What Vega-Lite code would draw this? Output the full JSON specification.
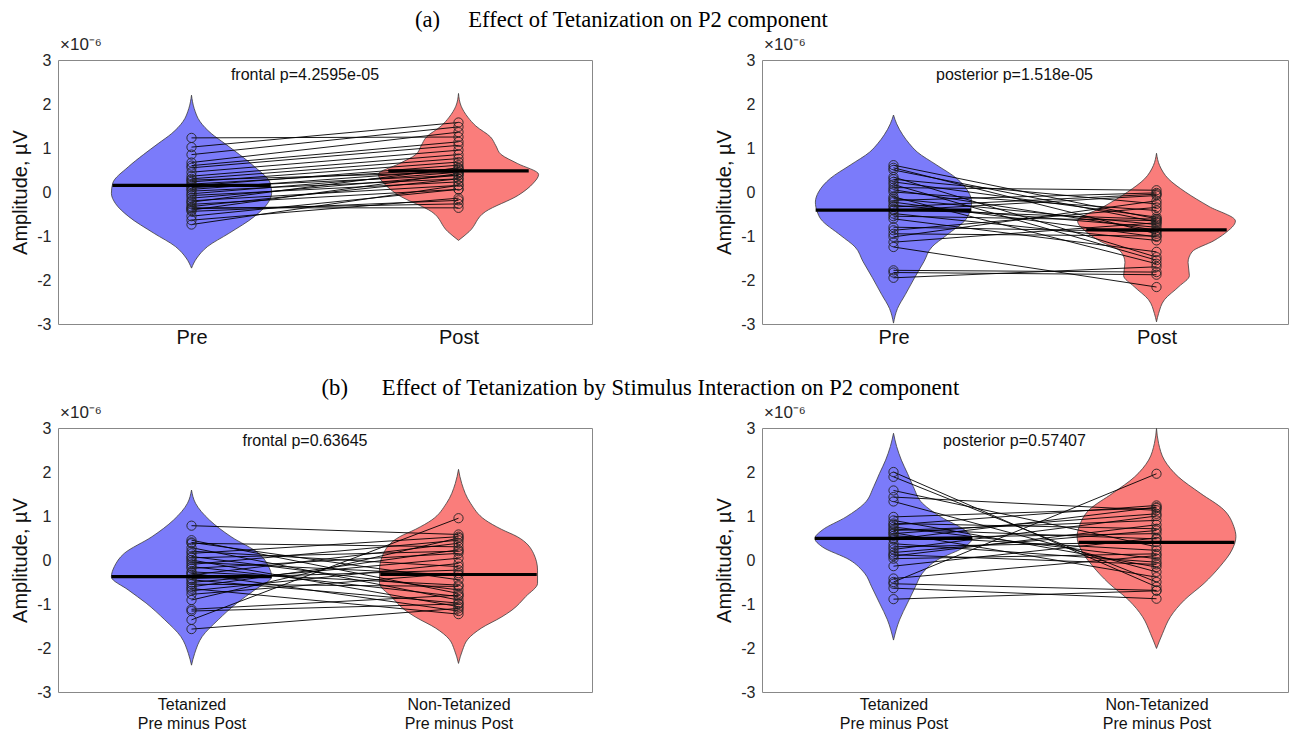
{
  "$schema": "https://vega.github.io/schema/vega-lite/v6.json",
  "padding": {"left": 10, "top": 8, "right": 0, "bottom": 0},
  "background": "white",
  "datasets": {
    "violin": [
      {"p":"A1","g":1,"y":2.2,"lo":1,"hi":1},{"p":"A1","g":1,"y":1.9,"lo":0.99,"hi":1.01},{"p":"A1","g":1,"y":1.6,"lo":0.968,"hi":1.032},{"p":"A1","g":1,"y":1.33,"lo":0.926,"hi":1.074},{"p":"A1","g":1,"y":1.1,"lo":0.875,"hi":1.125},{"p":"A1","g":1,"y":0.85,"lo":0.82,"hi":1.18},{"p":"A1","g":1,"y":0.57,"lo":0.763,"hi":1.237},{"p":"A1","g":1,"y":0.2,"lo":0.705,"hi":1.295},{"p":"A1","g":1,"y":-0.03,"lo":0.7,"hi":1.3},{"p":"A1","g":1,"y":-0.26,"lo":0.715,"hi":1.285},{"p":"A1","g":1,"y":-0.56,"lo":0.765,"hi":1.235},{"p":"A1","g":1,"y":-0.94,"lo":0.86,"hi":1.14},{"p":"A1","g":1,"y":-1.24,"lo":0.94,"hi":1.06},{"p":"A1","g":1,"y":-1.5,"lo":0.98,"hi":1.02},{"p":"A1","g":1,"y":-1.73,"lo":1,"hi":1},
      {"p":"A1","g":2,"y":2.24,"lo":2,"hi":2},{"p":"A1","g":2,"y":1.95,"lo":1.99,"hi":2.01},{"p":"A1","g":2,"y":1.7,"lo":1.965,"hi":2.035},{"p":"A1","g":2,"y":1.5,"lo":1.935,"hi":2.065},{"p":"A1","g":2,"y":1.25,"lo":1.88,"hi":2.12},{"p":"A1","g":2,"y":1.05,"lo":1.86,"hi":2.14},{"p":"A1","g":2,"y":0.85,"lo":1.84,"hi":2.16},{"p":"A1","g":2,"y":0.65,"lo":1.78,"hi":2.22},{"p":"A1","g":2,"y":0.4,"lo":1.7,"hi":2.3},{"p":"A1","g":2,"y":0.2,"lo":1.72,"hi":2.28},{"p":"A1","g":2,"y":-0.07,"lo":1.775,"hi":2.225},{"p":"A1","g":2,"y":-0.45,"lo":1.9,"hi":2.1},{"p":"A1","g":2,"y":-0.9,"lo":1.96,"hi":2.04},{"p":"A1","g":2,"y":-1.1,"lo":2,"hi":2},
      {"p":"A2","g":1,"y":1.75,"lo":1,"hi":1},{"p":"A2","g":1,"y":1.55,"lo":0.988,"hi":1.012},{"p":"A2","g":1,"y":1.3,"lo":0.965,"hi":1.035},{"p":"A2","g":1,"y":1.1,"lo":0.94,"hi":1.06},{"p":"A2","g":1,"y":0.91,"lo":0.91,"hi":1.09},{"p":"A2","g":1,"y":0.61,"lo":0.835,"hi":1.165},{"p":"A2","g":1,"y":0.31,"lo":0.76,"hi":1.24},{"p":"A2","g":1,"y":0,"lo":0.715,"hi":1.285},{"p":"A2","g":1,"y":-0.23,"lo":0.703,"hi":1.297},{"p":"A2","g":1,"y":-0.45,"lo":0.71,"hi":1.29},{"p":"A2","g":1,"y":-0.61,"lo":0.723,"hi":1.277},{"p":"A2","g":1,"y":-0.99,"lo":0.8,"hi":1.2},{"p":"A2","g":1,"y":-1.25,"lo":0.854,"hi":1.146},{"p":"A2","g":1,"y":-1.58,"lo":0.884,"hi":1.116},{"p":"A2","g":1,"y":-1.95,"lo":0.92,"hi":1.08},{"p":"A2","g":1,"y":-2.33,"lo":0.955,"hi":1.045},{"p":"A2","g":1,"y":-2.65,"lo":0.985,"hi":1.015},{"p":"A2","g":1,"y":-2.98,"lo":1,"hi":1},
      {"p":"A2","g":2,"y":0.88,"lo":2,"hi":2},{"p":"A2","g":2,"y":0.6,"lo":1.988,"hi":2.012},{"p":"A2","g":2,"y":0.3,"lo":1.955,"hi":2.045},{"p":"A2","g":2,"y":0,"lo":1.89,"hi":2.11},{"p":"A2","g":2,"y":-0.33,"lo":1.8,"hi":2.2},{"p":"A2","g":2,"y":-0.66,"lo":1.7,"hi":2.3},{"p":"A2","g":2,"y":-0.94,"lo":1.74,"hi":2.26},{"p":"A2","g":2,"y":-1.1,"lo":1.78,"hi":2.22},{"p":"A2","g":2,"y":-1.36,"lo":1.865,"hi":2.135},{"p":"A2","g":2,"y":-1.6,"lo":1.88,"hi":2.12},{"p":"A2","g":2,"y":-1.9,"lo":1.875,"hi":2.125},{"p":"A2","g":2,"y":-2.15,"lo":1.915,"hi":2.085},{"p":"A2","g":2,"y":-2.45,"lo":1.97,"hi":2.03},{"p":"A2","g":2,"y":-2.76,"lo":1.992,"hi":2.008},{"p":"A2","g":2,"y":-2.95,"lo":2,"hi":2},
      {"p":"B1","g":1,"y":1.59,"lo":1,"hi":1},{"p":"B1","g":1,"y":1.29,"lo":0.985,"hi":1.015},{"p":"B1","g":1,"y":0.91,"lo":0.933,"hi":1.067},{"p":"B1","g":1,"y":0.53,"lo":0.852,"hi":1.148},{"p":"B1","g":1,"y":0.15,"lo":0.748,"hi":1.252},{"p":"B1","g":1,"y":-0.15,"lo":0.711,"hi":1.289},{"p":"B1","g":1,"y":-0.38,"lo":0.7,"hi":1.3},{"p":"B1","g":1,"y":-0.68,"lo":0.763,"hi":1.237},{"p":"B1","g":1,"y":-0.98,"lo":0.83,"hi":1.17},{"p":"B1","g":1,"y":-1.36,"lo":0.9,"hi":1.1},{"p":"B1","g":1,"y":-1.74,"lo":0.96,"hi":1.04},{"p":"B1","g":1,"y":-2.12,"lo":0.988,"hi":1.012},{"p":"B1","g":1,"y":-2.39,"lo":1,"hi":1},
      {"p":"B1","g":2,"y":2.06,"lo":2,"hi":2},{"p":"B1","g":2,"y":1.74,"lo":1.988,"hi":2.012},{"p":"B1","g":2,"y":1.29,"lo":1.955,"hi":2.045},{"p":"B1","g":2,"y":0.91,"lo":1.9,"hi":2.1},{"p":"B1","g":2,"y":0.7,"lo":1.84,"hi":2.16},{"p":"B1","g":2,"y":0.53,"lo":1.78,"hi":2.22},{"p":"B1","g":2,"y":0.15,"lo":1.719,"hi":2.281},{"p":"B1","g":2,"y":-0.23,"lo":1.704,"hi":2.296},{"p":"B1","g":2,"y":-0.53,"lo":1.704,"hi":2.296},{"p":"B1","g":2,"y":-0.83,"lo":1.748,"hi":2.252},{"p":"B1","g":2,"y":-1.14,"lo":1.8,"hi":2.2},{"p":"B1","g":2,"y":-1.3,"lo":1.84,"hi":2.16},{"p":"B1","g":2,"y":-1.55,"lo":1.915,"hi":2.085},{"p":"B1","g":2,"y":-1.8,"lo":1.965,"hi":2.035},{"p":"B1","g":2,"y":-2.05,"lo":1.985,"hi":2.015},{"p":"B1","g":2,"y":-2.35,"lo":2,"hi":2},
      {"p":"B2","g":1,"y":2.88,"lo":1,"hi":1},{"p":"B2","g":1,"y":2.58,"lo":0.988,"hi":1.012},{"p":"B2","g":1,"y":2.27,"lo":0.97,"hi":1.03},{"p":"B2","g":1,"y":1.97,"lo":0.947,"hi":1.053},{"p":"B2","g":1,"y":1.67,"lo":0.925,"hi":1.075},{"p":"B2","g":1,"y":1.29,"lo":0.89,"hi":1.11},{"p":"B2","g":1,"y":0.98,"lo":0.82,"hi":1.18},{"p":"B2","g":1,"y":0.68,"lo":0.729,"hi":1.271},{"p":"B2","g":1,"y":0.49,"lo":0.701,"hi":1.299},{"p":"B2","g":1,"y":0.3,"lo":0.729,"hi":1.271},{"p":"B2","g":1,"y":0,"lo":0.834,"hi":1.166},{"p":"B2","g":1,"y":-0.3,"lo":0.89,"hi":1.11},{"p":"B2","g":1,"y":-0.61,"lo":0.917,"hi":1.083},{"p":"B2","g":1,"y":-0.98,"lo":0.947,"hi":1.053},{"p":"B2","g":1,"y":-1.36,"lo":0.977,"hi":1.023},{"p":"B2","g":1,"y":-1.82,"lo":1,"hi":1},
      {"p":"B2","g":2,"y":2.99,"lo":2,"hi":2},{"p":"B2","g":2,"y":2.65,"lo":1.992,"hi":2.008},{"p":"B2","g":2,"y":2.27,"lo":1.97,"hi":2.03},{"p":"B2","g":2,"y":1.89,"lo":1.917,"hi":2.083},{"p":"B2","g":2,"y":1.52,"lo":1.834,"hi":2.166},{"p":"B2","g":2,"y":1.14,"lo":1.744,"hi":2.256},{"p":"B2","g":2,"y":0.76,"lo":1.706,"hi":2.294},{"p":"B2","g":2,"y":0.53,"lo":1.698,"hi":2.302},{"p":"B2","g":2,"y":0.23,"lo":1.713,"hi":2.287},{"p":"B2","g":2,"y":-0.15,"lo":1.759,"hi":2.241},{"p":"B2","g":2,"y":-0.53,"lo":1.819,"hi":2.181},{"p":"B2","g":2,"y":-0.91,"lo":1.894,"hi":2.106},{"p":"B2","g":2,"y":-1.29,"lo":1.947,"hi":2.053},{"p":"B2","g":2,"y":-1.67,"lo":1.977,"hi":2.023},{"p":"B2","g":2,"y":-2.01,"lo":2,"hi":2}
    ],
    "pts": [
      {"p":"A1","a":1.23,"b":1.25},{"p":"A1","a":1.02,"b":1.58},{"p":"A1","a":0.85,"b":1.48},{"p":"A1","a":0.67,"b":1.36},{"p":"A1","a":0.6,"b":1.14},{"p":"A1","a":0.55,"b":1.06},{"p":"A1","a":0.45,"b":0.95},{"p":"A1","a":0.36,"b":0.85},{"p":"A1","a":0.3,"b":0.76},{"p":"A1","a":0.27,"b":0.45},{"p":"A1","a":0.23,"b":0.68},{"p":"A1","a":0.18,"b":0.53},{"p":"A1","a":0.14,"b":0.61},{"p":"A1","a":0.1,"b":0.38},{"p":"A1","a":0.06,"b":0.5},{"p":"A1","a":0.02,"b":0.3},{"p":"A1","a":-0.04,"b":0.45},{"p":"A1","a":-0.08,"b":0.23},{"p":"A1","a":-0.14,"b":0.38},{"p":"A1","a":-0.2,"b":0.15},{"p":"A1","a":-0.23,"b":0.55},{"p":"A1","a":-0.28,"b":0.06},{"p":"A1","a":-0.33,"b":0.3},{"p":"A1","a":-0.36,"b":-0.36},{"p":"A1","a":-0.38,"b":-0.27},{"p":"A1","a":-0.41,"b":0.42},{"p":"A1","a":-0.44,"b":-0.19},{"p":"A1","a":-0.55,"b":0.06},{"p":"A1","a":-0.64,"b":-0.14},{"p":"A1","a":-0.74,"b":0.15},
      {"p":"A2","a":0.61,"b":-0.61},{"p":"A2","a":0.55,"b":-0.95},{"p":"A2","a":0.5,"b":-0.68},{"p":"A2","a":0.34,"b":-1.48},{"p":"A2","a":0.29,"b":-0.27},{"p":"A2","a":0.23,"b":-0.57},{"p":"A2","a":0.17,"b":-1.55},{"p":"A2","a":0.1,"b":0.04},{"p":"A2","a":0.05,"b":-0.87},{"p":"A2","a":0,"b":-0.42},{"p":"A2","a":-0.11,"b":-1.63},{"p":"A2","a":-0.15,"b":-0.74},{"p":"A2","a":-0.19,"b":-0.02},{"p":"A2","a":-0.23,"b":-1.02},{"p":"A2","a":-0.3,"b":-0.8},{"p":"A2","a":-0.34,"b":-0.05},{"p":"A2","a":-0.4,"b":-0.62},{"p":"A2","a":-0.42,"b":-0.08},{"p":"A2","a":-0.49,"b":-1.1},{"p":"A2","a":-0.55,"b":-0.65},{"p":"A2","a":-0.61,"b":-1.36},{"p":"A2","a":-0.8,"b":-0.9},{"p":"A2","a":-0.87,"b":-0.35},{"p":"A2","a":-0.95,"b":-1},{"p":"A2","a":-1.02,"b":-0.2},{"p":"A2","a":-1.14,"b":-0.7},{"p":"A2","a":-1.25,"b":-2.16},{"p":"A2","a":-1.78,"b":-1.82},{"p":"A2","a":-1.83,"b":-1.88},{"p":"A2","a":-1.95,"b":-1.7},
      {"p":"B1","a":0.78,"b":0.58},{"p":"B1","a":0.45,"b":-0.76},{"p":"B1","a":0.4,"b":-0.45},{"p":"B1","a":0.38,"b":0.3},{"p":"B1","a":0.28,"b":-0.91},{"p":"B1","a":0.2,"b":-0.15},{"p":"B1","a":0.15,"b":0.53},{"p":"B1","a":0.08,"b":-0.68},{"p":"B1","a":0.05,"b":0.2},{"p":"B1","a":0,"b":-1.06},{"p":"B1","a":-0.05,"b":-0.34},{"p":"B1","a":-0.1,"b":0.45},{"p":"B1","a":-0.15,"b":-0.83},{"p":"B1","a":-0.19,"b":0.15},{"p":"B1","a":-0.27,"b":-0.57},{"p":"B1","a":-0.3,"b":-1.16},{"p":"B1","a":-0.34,"b":0.38},{"p":"B1","a":-0.42,"b":-0.23},{"p":"B1","a":-0.45,"b":-0.98},{"p":"B1","a":-0.51,"b":0.04},{"p":"B1","a":-0.55,"b":-0.6},{"p":"B1","a":-0.61,"b":0.23},{"p":"B1","a":-0.65,"b":-1.23},{"p":"B1","a":-0.7,"b":-0.08},{"p":"B1","a":-0.78,"b":-0.3},{"p":"B1","a":-0.91,"b":0.5},{"p":"B1","a":-1.12,"b":-0.8},{"p":"B1","a":-1.16,"b":-1},{"p":"B1","a":-1.36,"b":0.95},{"p":"B1","a":-1.57,"b":-1.1},
      {"p":"B2","a":2,"b":-0.61},{"p":"B2","a":1.89,"b":-0.5},{"p":"B2","a":1.58,"b":0.3},{"p":"B2","a":1.43,"b":1.13},{"p":"B2","a":1.33,"b":-0.27},{"p":"B2","a":0.98,"b":1.18},{"p":"B2","a":0.9,"b":-0.16},{"p":"B2","a":0.83,"b":0.71},{"p":"B2","a":0.8,"b":1.24},{"p":"B2","a":0.75,"b":0.03},{"p":"B2","a":0.7,"b":0.48},{"p":"B2","a":0.67,"b":0.9},{"p":"B2","a":0.62,"b":-0.39},{"p":"B2","a":0.6,"b":1.05},{"p":"B2","a":0.55,"b":0.22},{"p":"B2","a":0.5,"b":0.6},{"p":"B2","a":0.47,"b":1.2},{"p":"B2","a":0.37,"b":-0.05},{"p":"B2","a":0.3,"b":0.41},{"p":"B2","a":0.24,"b":1},{"p":"B2","a":0.17,"b":0.67},{"p":"B2","a":0.12,"b":-0.1},{"p":"B2","a":0.09,"b":0.8},{"p":"B2","a":0.03,"b":0.14},{"p":"B2","a":-0.14,"b":0.5},{"p":"B2","a":-0.42,"b":0.1},{"p":"B2","a":-0.5,"b":1.96},{"p":"B2","a":-0.54,"b":-0.69},{"p":"B2","a":-0.64,"b":-0.88},{"p":"B2","a":-0.89,"b":-0.7}
    ],
    "means": [
      {"p":"A1","y":0.15,"lo":0.704,"hi":1.296},{"p":"A1","y":0.48,"lo":1.737,"hi":2.263},
      {"p":"A2","y":-0.41,"lo":0.704,"hi":1.296},{"p":"A2","y":-0.86,"lo":1.733,"hi":2.267},
      {"p":"B1","y":-0.38,"lo":0.7,"hi":1.3},{"p":"B1","y":-0.33,"lo":1.707,"hi":2.293},
      {"p":"B2","y":0.49,"lo":0.701,"hi":1.299},{"p":"B2","y":0.4,"lo":1.704,"hi":2.296}
    ],
    "ann": [
      {"p":"A1","t":"frontal p=4.2595e-05"},{"p":"A2","t":"posterior p=1.518e-05"},
      {"p":"B1","t":"frontal p=0.63645"},{"p":"B2","t":"posterior p=0.57407"}
    ]
  },
  "vconcat": [
    {
      "title": {"text": "(a)\u00a0\u00a0\u00a0\u00a0\u00a0Effect of Tetanization on P2 component", "font": "Liberation Serif", "fontSize": 22.6, "fontWeight": "normal", "color": "#000", "anchor": "middle", "dx": -28, "offset": 4},
      "spacing": 121,
      "hconcat": [
        {
          "width": 534, "height": 264,
          "title": {"text": "×10⁻⁶", "anchor": "start", "frame": "group", "fontSize": 17, "font": "Liberation Sans", "fontWeight": "normal", "color": "#262626", "dx": 2, "offset": -2},
          "layer": [
            {"data": {"name": "violin"}, "transform": [{"filter": "datum.p == 'A1'"}],
             "mark": {"type": "area", "orient": "horizontal", "interpolate": "monotone", "stroke": "#3c3c3c", "strokeWidth": 0.8},
             "encoding": {
               "y": {"field": "y", "type": "quantitative", "scale": {"domain": [-3, 3], "nice": false, "zero": false}, "axis": {"values": [-3, -2, -1, 0, 1, 2, 3], "labelExpr": "'' + datum.value", "title": "Amplitude, µV"}},
               "x": {"field": "lo", "type": "quantitative", "scale": {"domain": [0.5, 2.5], "nice": false, "zero": false}, "axis": {"values": [1, 2], "labelExpr": "datum.value == 1 ? 'Pre' : 'Post'", "title": null}},
               "x2": {"field": "hi"},
               "color": {"field": "g", "type": "nominal", "scale": {"domain": [1, 2], "range": ["#7b7bfa", "#fa7d7b"]}, "legend": null}
             }},
            {"data": {"name": "pts"}, "transform": [{"filter": "datum.p == 'A1'"}],
             "mark": {"type": "rule", "color": "#000", "strokeWidth": 0.9, "opacity": 1},
             "encoding": {"x": {"datum": 1, "type": "quantitative"}, "x2": {"datum": 2}, "y": {"field": "a", "type": "quantitative", "title": "Amplitude, µV"}, "y2": {"field": "b"}}},
            {"data": {"name": "pts"}, "transform": [{"filter": "datum.p == 'A1'"}],
             "mark": {"type": "point", "shape": "circle", "filled": false, "color": "#222", "strokeWidth": 0.9, "size": 85, "opacity": 1},
             "encoding": {"x": {"datum": 1, "type": "quantitative"}, "y": {"field": "a", "type": "quantitative", "title": "Amplitude, µV"}}},
            {"data": {"name": "pts"}, "transform": [{"filter": "datum.p == 'A1'"}],
             "mark": {"type": "point", "shape": "circle", "filled": false, "color": "#222", "strokeWidth": 0.9, "size": 85, "opacity": 1},
             "encoding": {"x": {"datum": 2, "type": "quantitative"}, "y": {"field": "b", "type": "quantitative", "title": "Amplitude, µV"}}},
            {"data": {"name": "means"}, "transform": [{"filter": "datum.p == 'A1'"}],
             "mark": {"type": "rule", "color": "#000", "strokeWidth": 3.2},
             "encoding": {"x": {"field": "lo", "type": "quantitative", "title": null}, "x2": {"field": "hi"}, "y": {"field": "y", "type": "quantitative", "title": "Amplitude, µV"}}},
            {"data": {"name": "ann"}, "transform": [{"filter": "datum.p == 'A1'"}],
             "mark": {"type": "text", "fontSize": 16, "color": "#111", "font": "Liberation Sans"},
             "encoding": {"x": {"datum": 1.425, "type": "quantitative"}, "y": {"datum": 2.66, "type": "quantitative"}, "text": {"field": "t"}}}
          ]
        },
        {
          "width": 526, "height": 264,
          "title": {"text": "×10⁻⁶", "anchor": "start", "frame": "group", "fontSize": 17, "font": "Liberation Sans", "fontWeight": "normal", "color": "#262626", "dx": 2, "offset": -2},
          "layer": [
            {"data": {"name": "violin"}, "transform": [{"filter": "datum.p == 'A2'"}],
             "mark": {"type": "area", "orient": "horizontal", "interpolate": "monotone", "stroke": "#3c3c3c", "strokeWidth": 0.8},
             "encoding": {
               "y": {"field": "y", "type": "quantitative", "scale": {"domain": [-3, 3], "nice": false, "zero": false}, "axis": {"values": [-3, -2, -1, 0, 1, 2, 3], "labelExpr": "'' + datum.value", "title": "Amplitude, µV"}},
               "x": {"field": "lo", "type": "quantitative", "scale": {"domain": [0.5, 2.5], "nice": false, "zero": false}, "axis": {"values": [1, 2], "labelExpr": "datum.value == 1 ? 'Pre' : 'Post'", "title": null}},
               "x2": {"field": "hi"},
               "color": {"field": "g", "type": "nominal", "scale": {"domain": [1, 2], "range": ["#7b7bfa", "#fa7d7b"]}, "legend": null}
             }},
            {"data": {"name": "pts"}, "transform": [{"filter": "datum.p == 'A2'"}],
             "mark": {"type": "rule", "color": "#000", "strokeWidth": 0.9, "opacity": 1},
             "encoding": {"x": {"datum": 1, "type": "quantitative"}, "x2": {"datum": 2}, "y": {"field": "a", "type": "quantitative", "title": "Amplitude, µV"}, "y2": {"field": "b"}}},
            {"data": {"name": "pts"}, "transform": [{"filter": "datum.p == 'A2'"}],
             "mark": {"type": "point", "shape": "circle", "filled": false, "color": "#222", "strokeWidth": 0.9, "size": 85, "opacity": 1},
             "encoding": {"x": {"datum": 1, "type": "quantitative"}, "y": {"field": "a", "type": "quantitative", "title": "Amplitude, µV"}}},
            {"data": {"name": "pts"}, "transform": [{"filter": "datum.p == 'A2'"}],
             "mark": {"type": "point", "shape": "circle", "filled": false, "color": "#222", "strokeWidth": 0.9, "size": 85, "opacity": 1},
             "encoding": {"x": {"datum": 2, "type": "quantitative"}, "y": {"field": "b", "type": "quantitative", "title": "Amplitude, µV"}}},
            {"data": {"name": "means"}, "transform": [{"filter": "datum.p == 'A2'"}],
             "mark": {"type": "rule", "color": "#000", "strokeWidth": 3.2},
             "encoding": {"x": {"field": "lo", "type": "quantitative", "title": null}, "x2": {"field": "hi"}, "y": {"field": "y", "type": "quantitative", "title": "Amplitude, µV"}}},
            {"data": {"name": "ann"}, "transform": [{"filter": "datum.p == 'A2'"}],
             "mark": {"type": "text", "fontSize": 16, "color": "#111", "font": "Liberation Sans"},
             "encoding": {"x": {"datum": 1.46, "type": "quantitative"}, "y": {"datum": 2.66, "type": "quantitative"}, "text": {"field": "t"}}}
          ]
        }
      ]
    },
    {
      "title": {"text": "(b)\u00a0\u00a0\u00a0\u00a0\u00a0\u00a0Effect of Tetanization by Stimulus Interaction on P2 component", "font": "Liberation Serif", "fontSize": 22.6, "fontWeight": "normal", "color": "#000", "anchor": "middle", "dx": -9, "offset": 4},
      "spacing": 121,
      "hconcat": [
        {
          "width": 534, "height": 264,
          "title": {"text": "×10⁻⁶", "anchor": "start", "frame": "group", "fontSize": 17, "font": "Liberation Sans", "fontWeight": "normal", "color": "#262626", "dx": 2, "offset": -2},
          "layer": [
            {"data": {"name": "violin"}, "transform": [{"filter": "datum.p == 'B1'"}],
             "mark": {"type": "area", "orient": "horizontal", "interpolate": "monotone", "stroke": "#3c3c3c", "strokeWidth": 0.8},
             "encoding": {
               "y": {"field": "y", "type": "quantitative", "scale": {"domain": [-3, 3], "nice": false, "zero": false}, "axis": {"values": [-3, -2, -1, 0, 1, 2, 3], "labelExpr": "'' + datum.value", "title": "Amplitude, µV"}},
               "x": {"field": "lo", "type": "quantitative", "scale": {"domain": [0.5, 2.5], "nice": false, "zero": false}, "axis": {"values": [1, 2], "labelExpr": "datum.value == 1 ? ['Tetanized', 'Pre minus Post'] : ['Non-Tetanized', 'Pre minus Post']", "title": null, "labelFontSize": 16, "labelLineHeight": 19, "labelPadding": 4}},
               "x2": {"field": "hi"},
               "color": {"field": "g", "type": "nominal", "scale": {"domain": [1, 2], "range": ["#7b7bfa", "#fa7d7b"]}, "legend": null}
             }},
            {"data": {"name": "pts"}, "transform": [{"filter": "datum.p == 'B1'"}],
             "mark": {"type": "rule", "color": "#000", "strokeWidth": 0.9, "opacity": 1},
             "encoding": {"x": {"datum": 1, "type": "quantitative"}, "x2": {"datum": 2}, "y": {"field": "a", "type": "quantitative", "title": "Amplitude, µV"}, "y2": {"field": "b"}}},
            {"data": {"name": "pts"}, "transform": [{"filter": "datum.p == 'B1'"}],
             "mark": {"type": "point", "shape": "circle", "filled": false, "color": "#222", "strokeWidth": 0.9, "size": 85, "opacity": 1},
             "encoding": {"x": {"datum": 1, "type": "quantitative"}, "y": {"field": "a", "type": "quantitative", "title": "Amplitude, µV"}}},
            {"data": {"name": "pts"}, "transform": [{"filter": "datum.p == 'B1'"}],
             "mark": {"type": "point", "shape": "circle", "filled": false, "color": "#222", "strokeWidth": 0.9, "size": 85, "opacity": 1},
             "encoding": {"x": {"datum": 2, "type": "quantitative"}, "y": {"field": "b", "type": "quantitative", "title": "Amplitude, µV"}}},
            {"data": {"name": "means"}, "transform": [{"filter": "datum.p == 'B1'"}],
             "mark": {"type": "rule", "color": "#000", "strokeWidth": 3.2},
             "encoding": {"x": {"field": "lo", "type": "quantitative", "title": null}, "x2": {"field": "hi"}, "y": {"field": "y", "type": "quantitative", "title": "Amplitude, µV"}}},
            {"data": {"name": "ann"}, "transform": [{"filter": "datum.p == 'B1'"}],
             "mark": {"type": "text", "fontSize": 16, "color": "#111", "font": "Liberation Sans"},
             "encoding": {"x": {"datum": 1.425, "type": "quantitative"}, "y": {"datum": 2.7, "type": "quantitative"}, "text": {"field": "t"}}}
          ]
        },
        {
          "width": 526, "height": 264,
          "title": {"text": "×10⁻⁶", "anchor": "start", "frame": "group", "fontSize": 17, "font": "Liberation Sans", "fontWeight": "normal", "color": "#262626", "dx": 2, "offset": -2},
          "layer": [
            {"data": {"name": "violin"}, "transform": [{"filter": "datum.p == 'B2'"}],
             "mark": {"type": "area", "orient": "horizontal", "interpolate": "monotone", "stroke": "#3c3c3c", "strokeWidth": 0.8},
             "encoding": {
               "y": {"field": "y", "type": "quantitative", "scale": {"domain": [-3, 3], "nice": false, "zero": false}, "axis": {"values": [-3, -2, -1, 0, 1, 2, 3], "labelExpr": "'' + datum.value", "title": "Amplitude, µV"}},
               "x": {"field": "lo", "type": "quantitative", "scale": {"domain": [0.5, 2.5], "nice": false, "zero": false}, "axis": {"values": [1, 2], "labelExpr": "datum.value == 1 ? ['Tetanized', 'Pre minus Post'] : ['Non-Tetanized', 'Pre minus Post']", "title": null, "labelFontSize": 16, "labelLineHeight": 19, "labelPadding": 4}},
               "x2": {"field": "hi"},
               "color": {"field": "g", "type": "nominal", "scale": {"domain": [1, 2], "range": ["#7b7bfa", "#fa7d7b"]}, "legend": null}
             }},
            {"data": {"name": "pts"}, "transform": [{"filter": "datum.p == 'B2'"}],
             "mark": {"type": "rule", "color": "#000", "strokeWidth": 0.9, "opacity": 1},
             "encoding": {"x": {"datum": 1, "type": "quantitative"}, "x2": {"datum": 2}, "y": {"field": "a", "type": "quantitative", "title": "Amplitude, µV"}, "y2": {"field": "b"}}},
            {"data": {"name": "pts"}, "transform": [{"filter": "datum.p == 'B2'"}],
             "mark": {"type": "point", "shape": "circle", "filled": false, "color": "#222", "strokeWidth": 0.9, "size": 85, "opacity": 1},
             "encoding": {"x": {"datum": 1, "type": "quantitative"}, "y": {"field": "a", "type": "quantitative", "title": "Amplitude, µV"}}},
            {"data": {"name": "pts"}, "transform": [{"filter": "datum.p == 'B2'"}],
             "mark": {"type": "point", "shape": "circle", "filled": false, "color": "#222", "strokeWidth": 0.9, "size": 85, "opacity": 1},
             "encoding": {"x": {"datum": 2, "type": "quantitative"}, "y": {"field": "b", "type": "quantitative", "title": "Amplitude, µV"}}},
            {"data": {"name": "means"}, "transform": [{"filter": "datum.p == 'B2'"}],
             "mark": {"type": "rule", "color": "#000", "strokeWidth": 3.2},
             "encoding": {"x": {"field": "lo", "type": "quantitative", "title": null}, "x2": {"field": "hi"}, "y": {"field": "y", "type": "quantitative", "title": "Amplitude, µV"}}},
            {"data": {"name": "ann"}, "transform": [{"filter": "datum.p == 'B2'"}],
             "mark": {"type": "text", "fontSize": 16, "color": "#111", "font": "Liberation Sans"},
             "encoding": {"x": {"datum": 1.46, "type": "quantitative"}, "y": {"datum": 2.7, "type": "quantitative"}, "text": {"field": "t"}}}
          ]
        }
      ]
    }
  ],
  "spacing": 28,
  "config": {
    "font": "Liberation Sans",
    "view": {"stroke": "#888888", "strokeWidth": 1},
    "axis": {"grid": false, "domain": false, "ticks": false, "tickSize": 0, "labelColor": "#262626", "titleColor": "#111", "titleFontWeight": "normal", "labelFont": "Liberation Sans", "titleFont": "Liberation Sans"},
    "axisY": {"labelFontSize": 16, "labelPadding": 7, "titleFontSize": 20, "titlePadding": 6},
    "axisX": {"labelFontSize": 20, "labelPadding": 3, "labelColor": "#111"},
    "title": {"fontWeight": "normal"}
  }
}
